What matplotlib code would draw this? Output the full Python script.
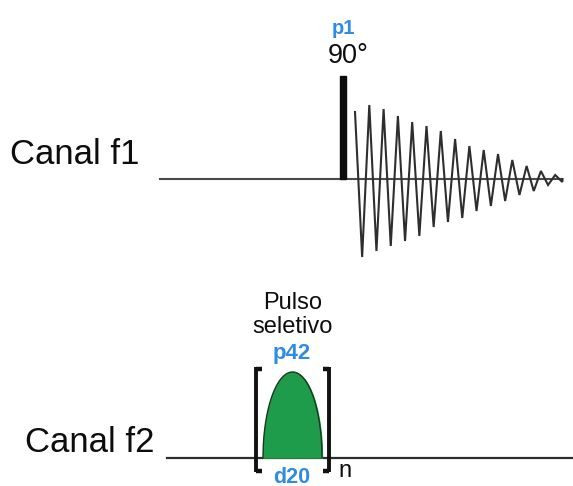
import numpy as np
import matplotlib
matplotlib.use("Agg")
import matplotlib.pyplot as plt

plt.rcParams['font.family'] = ['Liberation Sans', 'DejaVu Sans']

# Channel labels
channels = ["Canal f1", "Canal f2"]
# FID envelope (pixel amplitudes above / below baseline)
fid_peaks = [67, 74, 70, 63, 57, 53, 48, 40, 33, 29, 25, 19, 13, 8, 4]
fid_troughs = [78, 72, 67, 62, 57, 48, 43, 39, 32, 27, 22, 16, 12, 6, 3]
# Labels
pulse1_name, pulse1_angle = "p1", "90°"
sel_label = ["Pulso", "seletivo"]
sel_name, delay_name, loop_name = "p42", "d20", "n"

BLUE = '#2f8be3'
GREEN = '#1e9c4b'
W, H = 573, 486

fig = plt.figure(figsize=(W / 100, H / 100), dpi=100)
ax = fig.add_axes([0, 0, 1, 1])
ax.set_xlim(0, W)
ax.set_ylim(H, 0)
ax.axis('off')

# ---- Channel f1 ----
y1 = 179
ax.text(10, 154, channels[0], fontsize=25, va='center', ha='left', color='#0d0d0d')
ax.plot([160, 562], [y1, y1], color='#4a4a4a', lw=1.5, zorder=1)
# 90 degree hard pulse
ax.add_patch(plt.Rectangle((340, 76), 6, y1 - 76, color='#0d0d0d', zorder=3))
ax.text(343, 29, pulse1_name, fontsize=14.5, fontweight='bold', color=BLUE,
        ha='center', va='center')
ax.text(348, 56, pulse1_angle, fontsize=19.5, color='#0d0d0d', ha='center', va='center')

# FID zigzag
x0, dx = 355, 14.3
xs, ys = [], []
for i, (p, t) in enumerate(zip(fid_peaks, fid_troughs)):
    xs += [x0 + i * dx, x0 + i * dx + dx / 2]
    ys += [y1 - p, y1 + t]
xs.append(x0 + len(fid_peaks) * dx - 7)
ys.append(y1)
ax.plot(xs, ys, color='#2e2e2e', lw=1.5, zorder=2, solid_joinstyle='miter')

# ---- Channel f2 ----
y2 = 457.5
ax.text(25, 442, channels[1], fontsize=25, va='center', ha='left', color='#0d0d0d')
ax.plot([167, W], [y2, y2], color='#2e2e2e', lw=1.6, zorder=1)

# Selective shaped pulse (half ellipse)
xl, xr, htop = 263, 322, 372
c, a = (xl + xr) / 2, (xr - xl) / 2
xe = np.linspace(xl, xr, 200)
ye = y2 - (y2 - htop) * np.sqrt(np.clip(1 - ((xe - c) / a) ** 2, 0, 1))
ax.fill_between(xe, y2, ye, color=GREEN, zorder=2)
ax.plot(xe, ye, color='#1a3a22', lw=1.0, zorder=3)

# Brackets
bt, bb = 367, 472
for bx, d in [(256, 1), (329, -1)]:
    ax.plot([bx, bx], [bt, bb], color='#111111', lw=2.8, zorder=4, solid_capstyle='butt')
    ax.plot([bx, bx + d * 6], [bt + 1.5, bt + 1.5], color='#111111', lw=3.2, zorder=4,
            solid_capstyle='butt')
    ax.plot([bx, bx + d * 6], [bb - 1.5, bb - 1.5], color='#111111', lw=3.2, zorder=4,
            solid_capstyle='butt')

ax.text(293, 303, sel_label[0], fontsize=17, color='#0d0d0d', ha='center', va='center')
ax.text(293, 327, sel_label[1], fontsize=17, color='#0d0d0d', ha='center', va='center')
ax.text(292, 353, sel_name, fontsize=16, fontweight='bold', color=BLUE,
        ha='center', va='center')
ax.text(292, 477, delay_name, fontsize=15.5, fontweight='bold', color=BLUE,
        ha='center', va='center')
ax.text(345, 471, loop_name, fontsize=17, color='#0d0d0d', ha='center', va='center')

fig.savefig('out.png', dpi=100)
